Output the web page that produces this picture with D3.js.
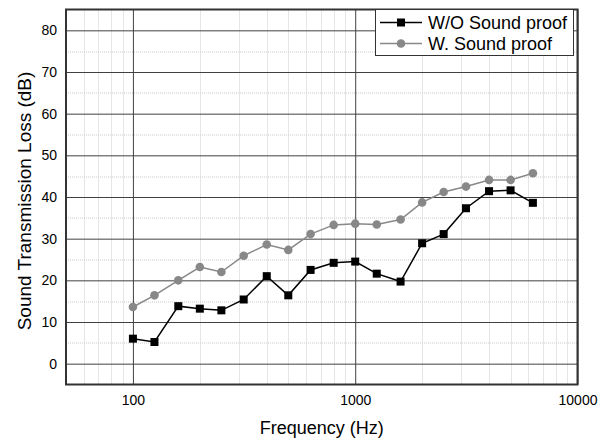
<!DOCTYPE html>
<html>
<head>
<meta charset="utf-8">
<script src="https://cdn.jsdelivr.net/npm/d3@7"></script>
<style>
  body { margin: 0; background: #fff; }
  svg { display: block; font-family: Arial, "Liberation Sans", sans-serif; }
</style>
</head>
<body>
<svg id="chart" width="610" height="441"></svg>
<script>
const frequencies = [100, 125, 160, 200, 250, 315, 400, 500, 630, 800, 1000, 1250, 1600, 2000, 2500, 3150, 4000, 5000, 6300];
const withoutProof = [6.0, 5.2, 13.8, 13.2, 12.8, 15.4, 21.0, 16.4, 22.5, 24.2, 24.5, 21.6, 19.7, 28.9, 31.1, 37.3, 41.4, 41.6, 38.6];
const withProof = [13.6, 16.4, 20.0, 23.2, 22.0, 25.9, 28.6, 27.3, 31.1, 33.3, 33.6, 33.4, 34.6, 38.7, 41.2, 42.5, 44.1, 44.1, 45.7];
const xTicks = [100, 1000, 10000];
const yTicks = [0, 10, 20, 30, 40, 50, 60, 70, 80];
const seriesNames = ["W/O Sound proof", "W. Sound proof"];

const svg = d3.select("#chart");
const m = {left: 66, top: 9.5, right: 32.5, bottom: 56.5};
const W = 610 - m.left - m.right, H = 441 - m.top - m.bottom;
const g = svg.append("g").attr("transform", `translate(${m.left},${m.top})`);

const x = d3.scaleLog().domain([50, 10000]).range([0, W]);
const y = d3.scaleLinear().domain([-5, 85]).range([H, 0]);

// minor grid vertical
const minorX = [];
[10, 100, 1000].forEach(d => { for (let k = 2; k <= 9; k++) { const v = d * k; if (v > 50 && v < 10000) minorX.push(v); } });
g.append("g").selectAll("line").data(minorX).join("line")
  .attr("x1", d => Math.round(x(d)) + 0.5).attr("x2", d => Math.round(x(d)) + 0.5)
  .attr("y1", 0).attr("y2", H)
  .attr("stroke", "#cccccc").attr("stroke-width", 1).attr("stroke-dasharray", "1,1");
// minor grid horizontal
const minorY = [5, 15, 25, 35, 45, 55, 65, 75];
g.append("g").selectAll("line").data(minorY).join("line")
  .attr("y1", d => Math.round(y(d)) + 0.5).attr("y2", d => Math.round(y(d)) + 0.5)
  .attr("x1", 0).attr("x2", W)
  .attr("stroke", "#cccccc").attr("stroke-width", 1).attr("stroke-dasharray", "1,1");

// major grid via axes
const gx = g.append("g").attr("transform", `translate(0,${H})`)
  .call(d3.axisBottom(x).tickValues(xTicks).tickFormat(d3.format("d")).tickSize(-H).tickPadding(11));
gx.select(".domain").remove();
gx.selectAll(".tick line").attr("stroke", "#404040");
gx.selectAll(".tick text").attr("font-size", 14).attr("fill", "#000").attr("font-family", "Arial, 'Liberation Sans', sans-serif");

const gy = g.append("g")
  .call(d3.axisLeft(y).tickValues(yTicks).tickSize(-W).tickPadding(9));
gy.select(".domain").remove();
gy.selectAll(".tick line").attr("stroke", "#404040");
gy.selectAll(".tick text").attr("font-size", 14).attr("fill", "#000").attr("font-family", "Arial, 'Liberation Sans', sans-serif");

// frame
g.append("rect").attr("x", 0).attr("y", 0).attr("width", W).attr("height", H)
  .attr("fill", "none").attr("stroke", "#333").attr("stroke-width", 2);

const line = d3.line().x((d, i) => x(frequencies[i])).y(d => y(d));

// W. Sound proof (gray circles)
g.append("path").datum(withProof).attr("d", line)
  .attr("fill", "none").attr("stroke", "#888").attr("stroke-width", 1.5);
g.append("g").selectAll("circle").data(withProof).join("circle")
  .attr("cx", (d, i) => x(frequencies[i])).attr("cy", d => y(d)).attr("r", 4.3)
  .attr("fill", "#888");

// W/O Sound proof (black squares)
g.append("path").datum(withoutProof).attr("d", line)
  .attr("fill", "none").attr("stroke", "#000").attr("stroke-width", 1.5);
const s = 8;
g.append("g").selectAll("rect").data(withoutProof).join("rect")
  .attr("x", (d, i) => x(frequencies[i]) - s / 2).attr("y", d => y(d) - s / 2)
  .attr("width", s).attr("height", s).attr("fill", "#000");

// legend
const lg = svg.append("g");
lg.append("rect").attr("x", 375.5).attr("y", 9.5).attr("width", 198).attr("height", 46)
  .attr("fill", "#fff").attr("stroke", "#333").attr("stroke-width", 1);
const rows = [
  {name: seriesNames[0], color: "#000", shape: "square", yy: 22.5},
  {name: seriesNames[1], color: "#888", shape: "circle", yy: 43.5}
];
rows.forEach(r => {
  lg.append("line").attr("x1", 380).attr("x2", 422).attr("y1", r.yy).attr("y2", r.yy)
    .attr("stroke", r.color).attr("stroke-width", 1.5);
  if (r.shape === "square") {
    lg.append("rect").attr("x", 401 - 4).attr("y", r.yy - 4).attr("width", 8).attr("height", 8).attr("fill", r.color);
  } else {
    lg.append("circle").attr("cx", 401).attr("cy", r.yy).attr("r", 4.3).attr("fill", r.color);
  }
  lg.append("text").attr("x", 428).attr("y", r.yy + 6.5).attr("font-size", 18).attr("fill", "#000")
    .text(r.name);
});

// axis titles
svg.append("text").attr("x", m.left + W / 2).attr("y", 434).attr("text-anchor", "middle")
  .attr("font-size", 18).attr("fill", "#000").text("Frequency (Hz)");
svg.append("text").attr("transform", `translate(31,${m.top + H / 2 + 4}) rotate(-90)`)
  .attr("text-anchor", "middle").attr("font-size", 19).attr("fill", "#000")
  .text("Sound Transmission Loss (dB)");
</script>
</body>
</html>
